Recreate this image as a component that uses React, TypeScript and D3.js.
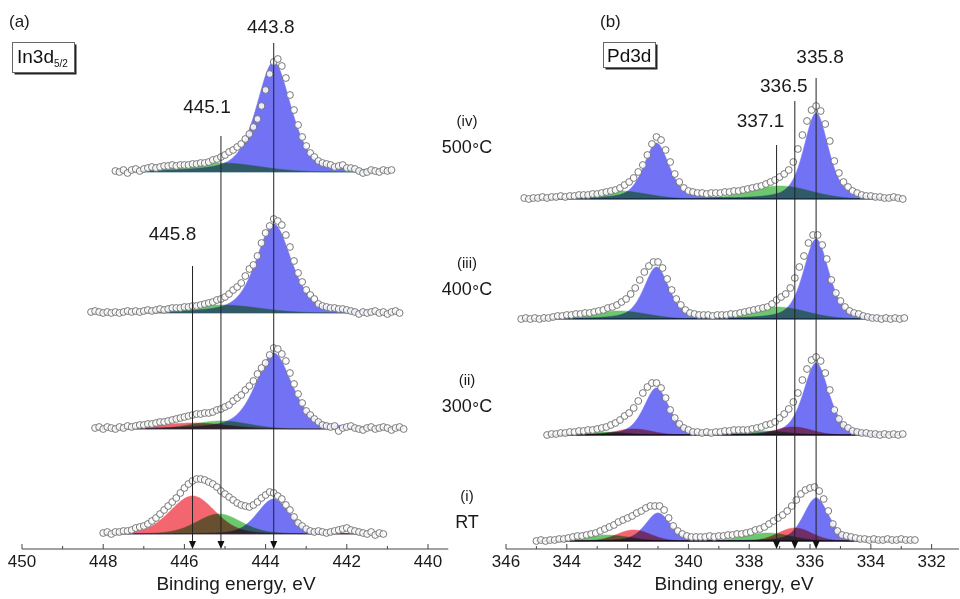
import React from 'react';
import * as d3 from 'd3';

const FONT = "'Liberation Sans', Arial, Helvetica, sans-serif";

// ---------- axes ----------
const aTicks = [450, 448, 446, 444, 442, 440];
const aMinorTicks = [449, 447, 445, 443, 441];
const bTicks = [346, 344, 342, 340, 338, 336, 334, 332];
const bMinorTicks = [345, 343, 341, 339, 337, 335, 333];
const axisTitle = 'Binding energy, eV';

// ---------- conditions ----------
const conditionRoman = ['(iv)', '(iii)', '(ii)', '(i)'];
const conditionTemp = ['500', '400', '300', 'RT'];
const conditionUnit = ['C', 'C', 'C', ''];

// ---------- peak markers ----------
const aMarkers = [443.8, 445.1, 445.8];
const bMarkers = [335.8, 336.5, 337.1];

// ---------- In3d5/2 experimental points (0.1 eV step) ----------
const aIV_start = 447.7;
const aIV = [1,0,2,-1,2,3,1,3,4,5, 4,5,6,6,7,6,7,7,7,8, 8,9,9,10,12,13,15,17,20,22,
  25,28,33,38,45,53,66,82,98,110, 113,106,94,77,62,47,35,26,19,15, 11,9,8,7,5,6,7,4,4,3,
  1,-1,0,2,1,0,2,1,2];
const aIII_start = 448.3;
const aIII = [1,2,1,0,1,0,1,0,1,2, 1,2,1,2,3,2,3,4,3,4, 5,5,5,6,6,7,7,8,9,10,
  11,13,14,16,19,23,26,30,37,44, 48,57,70,80,87,94,92,88,78,66, 52,40,31,23,18,14,9,7,6,5,
  5,4,4,3,2,1,-1,1,0,1, 2,0,1,-1,1,2,0];
const aII_start = 448.2;
const aII = [1,2,0,2,1,0,2,1,3,2, 3,4,4,5,5,6,7,7,8,9, 10,11,12,13,14,15,15,16,16,17,
  19,20,22,24,28,31,34,39,43,48, 55,61,66,74,81,80,75,68,56,45, 35,26,18,14,10,7,4,3,2,3,
  -2,1,2,3,1,0,-1,1,2,0, 1,2,1,-1,1,2,0];
const aI_start = 448.0;
const aI = [1,2,0,2,2,3,3,4,6,7, 8,10,13,16,20,24,28,32,36,41, 46,50,53,55,55,54,52,50,47,43,
  40,37,34,31,29,28,27,29,32,36, 39,42,41,38,35,29,24,17,11,8, 5,3,2,3,2,1,2,3,4,5,
  6,4,3,2,1,0,2,-1,1,0];

// ---------- Pd3d experimental points (0.15 eV step) ----------
const bIV_start = 345.4;
const bIV = [1,0,1,1,2,1,2,2,3,2, 3,3,4,4,4,5,5,6,7,8, 9,11,14,17,21,27,34,44,55,62,
  59,49,37,25,17,11,8,7,6,6, 5,6,6,6,7,7,8,8,9,10, 11,12,13,15,17,19,22,25,29,37,
  50,64,78,89,93,88,75,58,38,26, 17,12,8,6,4,3,3,2,2,1, 1,2,1,0];
const bIII_start = 345.5;
const bIII = [0,1,0,1,0,1,1,2,3,3, 4,4,5,5,6,6,7,8,9,11, 12,14,17,20,25,31,39,47,53,57,
  57,51,40,29,20,14,9,6,5,4, 4,4,3,4,4,4,5,5,6,7, 8,9,10,11,12,15,19,22,25,31,
  41,52,63,76,84,84,74,60,39,26, 18,12,8,6,5,3,2,1,1,0, 1,0,1,0,1];
const bII_start = 344.65;
const bII = [0,1,1,2,2,3,3,4,4,5, 5,6,7,8,10,12,15,19,22,27, 34,42,48,52,52,47,37,25,17,11,
  7,5,3,3,2,3,2,3,3,4, 4,5,5,5,5,6,7,8,10,11, 13,17,21,26,33,42,55,66,75,78,
  74,62,45,25,16,10,7,4,3,2, 2,1,1,0,1,0,1,0,1];
const bI_start = 345.0;
const bI = [0,1,0,1,1,2,2,3,4,5, 5,6,7,8,10,12,14,16,19,21, 23,25,28,30,33,35,35,35,31,23,
  15,10,7,5,4,4,4,4,5,4, 5,5,6,6,7,7,8,9,11,12, 14,17,20,23,26,30,35,41,47,51,
  53,54,50,42,30,17,10,6,5,4, 3,2,2,1,2,1,1,2,1,1, 2,1,1,1];

// vertical stacking offsets (a.u.)
const aOffsets = [377, 236, 120, 15];
const bOffsets = [350, 230, 114, 8];

// fitted components: centre (eV), height (a.u.), FWHM (eV), Lorentzian fraction, species
const aIV_fit = [[445.1, 9, 2.2, 0, 'g'], [443.8, 110, 1.0, 0.5, 'b']];
const aIII_fit = [[445.1, 8, 2.2, 0, 'g'], [443.8, 89, 1.02, 0.5, 'b']];
const aII_fit = [[445.8, 6, 2.0, 0, 'r'], [445.1, 8, 1.6, 0, 'g'], [443.8, 76, 1.05, 0.5, 'b']];
const aI_fit = [[445.8, 38, 1.3, 0.2, 'r'], [445.15, 20, 1.3, 0.2, 'g'], [443.8, 35, 0.95, 0.3, 'b']];
const bIV_fit = [[342.3, 8, 2.2, 0, 'g'], [337.0, 13, 2.4, 0, 'g'], [341.05, 56, 0.98, 0.5, 'b'], [335.8, 86, 0.95, 0.5, 'b']];
const bIII_fit = [[342.3, 8, 2.2, 0, 'g'], [337.1, 12, 2.3, 0, 'g'], [341.05, 52, 0.98, 0.5, 'b'], [335.8, 80, 0.98, 0.5, 'b']];
const bII_fit = [[342.8, 3, 1.8, 0, 'g'], [337.5, 4, 1.8, 0, 'g'], [341.8, 6, 1.4, 0, 'r'], [336.55, 8, 1.4, 0, 'r'], [341.05, 47, 0.98, 0.5, 'b'], [335.8, 72, 0.98, 0.5, 'b']];
const bI_fit = [[342.7, 6, 1.8, 0, 'g'], [337.4, 8, 1.8, 0, 'g'], [341.8, 11, 1.3, 0, 'r'], [336.5, 13, 1.3, 0, 'r'], [341.0, 28, 0.98, 0.4, 'b'], [335.8, 43, 0.98, 0.4, 'b']];

const COLORS: Record<string, string> = { b: '#7272f4', g: '#6cc86c', r: '#f4666f' };

type Spec = { start: number; step: number; values: number[]; offset: number; fit: any[] };

const aSpectra: Spec[] = [
  { start: aIV_start, step: 0.1, values: aIV, offset: aOffsets[0], fit: aIV_fit },
  { start: aIII_start, step: 0.1, values: aIII, offset: aOffsets[1], fit: aIII_fit },
  { start: aII_start, step: 0.1, values: aII, offset: aOffsets[2], fit: aII_fit },
  { start: aI_start, step: 0.1, values: aI, offset: aOffsets[3], fit: aI_fit },
];
const bSpectra: Spec[] = [
  { start: bIV_start, step: 0.15, values: bIV, offset: bOffsets[0], fit: bIV_fit },
  { start: bIII_start, step: 0.15, values: bIII, offset: bOffsets[1], fit: bIII_fit },
  { start: bII_start, step: 0.15, values: bII, offset: bOffsets[2], fit: bII_fit },
  { start: bI_start, step: 0.15, values: bI, offset: bOffsets[3], fit: bI_fit },
];

function pv(e: number, p: any[]) {
  const [c, h, w, eta] = p;
  const u = (e - c) / (w / 2);
  return h * (eta / (1 + u * u) + (1 - eta) * Math.exp(-Math.LN2 * u * u));
}

const AXIS_Y = 549;
const y = d3.scaleLinear().domain([0, 520]).range([AXIS_Y, AXIS_Y - 520]);
const xa = d3.scaleLinear().domain([450, 439.5]).range([22, 448.3]);
const xb = d3.scaleLinear().domain([346, 331.1]).range([506, 959]);

function Spectrum({ s, x }: { s: Spec; x: d3.ScaleLinear<number, number> }) {
  const n = s.values.length;
  const eHi = s.start;
  const eLo = s.start - (n - 1) * s.step;
  const grid = d3.range(eHi, eLo - 1e-9, -0.02);
  return (
    <g>
      <g style={{ isolation: 'isolate' }}>
        {s.fit.map((p, i) => {
          const area = d3.area<number>()
            .x((e) => x(e))
            .y0(y(s.offset))
            .y1((e) => y(s.offset + pv(e, p)));
          return (
            <path key={i} d={area(grid) || ''} fill={COLORS[p[4]]} stroke={COLORS[p[4]]}
              strokeWidth={0.6} style={{ mixBlendMode: 'multiply' }} />
          );
        })}
      </g>
      {s.values.map((v, i) => (
        <circle key={i} cx={x(s.start - i * s.step)} cy={y(s.offset + v)} r={3.4}
          fill="#ffffff" fillOpacity={0.85} stroke="#6a6a6a" strokeWidth={0.9} />
      ))}
    </g>
  );
}

function Axis({ x, ticks, minor, from, to, titleX }: any) {
  return (
    <g fontFamily={FONT}>
      <line x1={x(from)} x2={x(to)} y1={AXIS_Y} y2={AXIS_Y} stroke="#444" strokeWidth={1} />
      {ticks.map((t: number) => (
        <g key={t}>
          <line x1={x(t)} x2={x(t)} y1={AXIS_Y} y2={AXIS_Y - 5} stroke="#444" />
          <text x={x(t)} y={567} fontSize={17} textAnchor="middle" fill="#1a1a1a">{t}</text>
        </g>
      ))}
      {minor.map((t: number) => (
        <line key={t} x1={x(t)} x2={x(t)} y1={AXIS_Y} y2={AXIS_Y - 3} stroke="#444" />
      ))}
      <text x={titleX} y={590} fontSize={19} textAnchor="middle" fill="#1a1a1a">{axisTitle}</text>
    </g>
  );
}

function Marker({ x, e, top, label, labelDx, labelY }: any) {
  const px = x(e);
  return (
    <g>
      <line x1={px} x2={px} y1={top} y2={AXIS_Y - 7} stroke="#222" strokeWidth={1} />
      <path d={`M${px - 3.5},${AXIS_Y - 8} L${px + 3.5},${AXIS_Y - 8} L${px},${AXIS_Y} Z`} fill="#111" />
      <text x={px + labelDx} y={labelY} fontSize={19} textAnchor="middle" fontFamily={FONT} fill="#1a1a1a">{label}</text>
    </g>
  );
}

export default function App() {
  const aMarkLayout = [
    { top: 43, dx: -3, ly: 33 },
    { top: 136, dx: -14, ly: 113 },
    { top: 266, dx: -20, ly: 240 },
  ];
  const bMarkLayout = [
    { top: 78, dx: 4, ly: 63 },
    { top: 101, dx: -11, ly: 92 },
    { top: 145, dx: -16, ly: 127 },
  ];
  const condY = [[121, 147], [263, 289], [380, 406], [496, 522]];
  return (
    <svg width={960} height={599} viewBox="0 0 960 599"
      style={{ position: 'absolute', left: 0, top: 0, background: '#ffffff' }}>
      <rect x={0} y={0} width={960} height={599} fill="#ffffff" />
      {aSpectra.map((s, i) => <Spectrum key={'a' + i} s={s} x={xa} />)}
      {bSpectra.map((s, i) => <Spectrum key={'b' + i} s={s} x={xb} />)}

      <Axis x={xa} ticks={aTicks} minor={aMinorTicks} from={450} to={439.5} titleX={236} />
      <Axis x={xb} ticks={bTicks} minor={bMinorTicks} from={346} to={331.1} titleX={734} />

      {aMarkers.map((e, i) => (
        <Marker key={'am' + i} x={xa} e={e} top={aMarkLayout[i].top} label={e.toFixed(1)}
          labelDx={aMarkLayout[i].dx} labelY={aMarkLayout[i].ly} />
      ))}
      {bMarkers.map((e, i) => (
        <Marker key={'bm' + i} x={xb} e={e} top={bMarkLayout[i].top} label={e.toFixed(1)}
          labelDx={bMarkLayout[i].dx} labelY={bMarkLayout[i].ly} />
      ))}

      <g fontFamily={FONT} fill="#1a1a1a">
        <text x={9} y={27} fontSize={17}>(a)</text>
        <text x={600} y={27} fontSize={17}>(b)</text>
        {conditionRoman.map((r, i) => (
          <g key={r}>
            <text x={467} y={condY[i][0] + 5} fontSize={15} textAnchor="middle">{r}</text>
            <text x={467} y={condY[i][1] + 6} fontSize={18} textAnchor="middle">
              {conditionTemp[i]}
              {conditionUnit[i] ? (
                <>
                  <tspan fontSize={17} dy={2} dx={0.5}>{'\u00B0'}</tspan>
                  <tspan dy={-2} dx={0}>{conditionUnit[i]}</tspan>
                </>
              ) : null}
            </text>
          </g>
        ))}
      </g>

      {/* In3d5/2 label box */}
      <g fontFamily={FONT}>
        <rect x={14.5} y={44.5} width={62} height={30} fill="#222" />
        <rect x={12.5} y={42.5} width={62} height={30} fill="#ffffff" stroke="#666" strokeWidth={1} />
        <text x={17} y={63} fontSize={19} fill="#111">In3d<tspan fontSize={10} dy={4}>5/2</tspan></text>
      </g>
      {/* Pd3d label box */}
      <g fontFamily={FONT}>
        <rect x={605.5} y={44.5} width={52} height={25} fill="#222" />
        <rect x={603.5} y={42.5} width={52} height={25} fill="#ffffff" stroke="#666" strokeWidth={1} />
        <text x={607} y={62} fontSize={19} fill="#111">Pd3d</text>
      </g>
    </svg>
  );
}
